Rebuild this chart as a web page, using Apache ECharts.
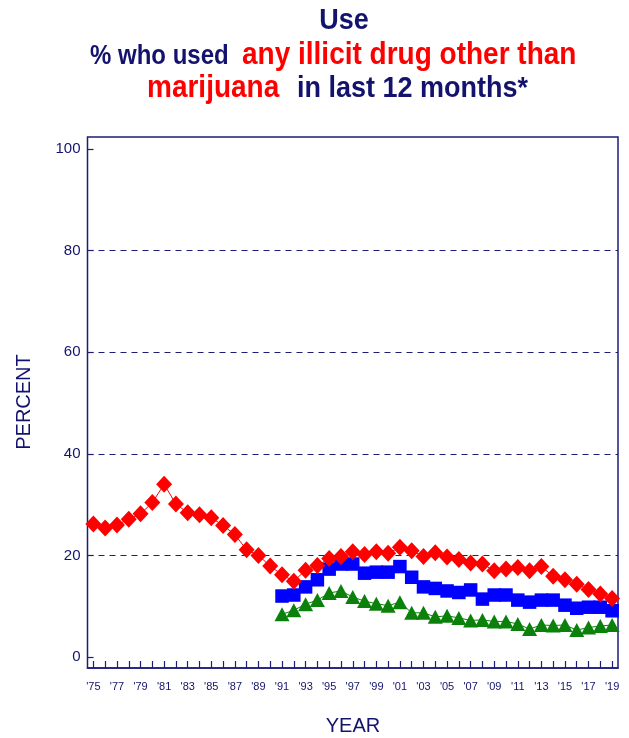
<!DOCTYPE html>
<html>
<head>
<meta charset="utf-8">
<script src="https://cdn.jsdelivr.net/npm/echarts@6/dist/echarts.min.js"></script>
<style>
html,body{margin:0;padding:0;background:#fff;}
#chart{width:629px;height:738px;}
</style>
</head>
<body>
<div id="chart"></div>
<script>
// ---- data ----
const years = ["'75","'76","'77","'78","'79","'80","'81","'82","'83","'84","'85","'86","'87","'88","'89","'90","'91","'92","'93","'94","'95","'96","'97","'98","'99","'00","'01","'02","'03","'04","'05","'06","'07","'08","'09","'10","'11","'12","'13","'14","'15","'16","'17","'18","'19"];
const grade12 = [26.2,25.4,26.0,27.1,28.2,30.4,34.0,30.1,28.4,28.0,27.4,25.9,24.1,21.1,20.0,17.9,16.2,14.9,17.1,18.0,19.4,19.8,20.7,20.2,20.7,20.4,21.6,20.9,19.8,20.5,19.7,19.2,18.5,18.3,17.0,17.3,17.6,17.0,17.8,15.9,15.2,14.3,13.3,12.4,11.5];
const grade10From1991 = [12.0,12.2,13.8,15.2,17.3,18.3,18.3,16.5,16.7,16.7,17.8,15.7,13.8,13.5,13.0,12.7,13.2,11.4,12.2,12.2,11.2,10.8,11.2,11.2,10.2,9.6,9.8,9.8,9.1];
const grade8From1991 = [8.4,9.2,10.4,11.2,12.6,13.0,11.8,11.0,10.5,10.1,10.8,8.7,8.7,7.9,8.1,7.7,7.2,7.3,7.0,7.0,6.5,5.5,6.3,6.2,6.3,5.3,5.8,6.1,6.3];
const yTicks = [0,20,40,60,80,100];

const startIdx = years.indexOf("'91");
const pad = arr => new Array(startIdx).fill(null).concat(arr);
const grade10 = pad(grade10From1991);
const grade8 = pad(grade8From1991);

const NAVY = '#13136e';
const AXIS = '#1d1d78';
const FONT = '"Liberation Sans", Arial, sans-serif';

function titleText(x, y, text, size, color, align) {
  return {type: 'text', x: x, y: y, scaleY: 1.12, originX: 0, originY: 0,
    style: {text: text, font: 'bold ' + size + 'px ' + FONT, fill: color, align: align, verticalAlign: 'middle'}};
}

const chart = echarts.init(document.getElementById('chart'), null, {renderer:'canvas'});
chart.setOption({
  animation: false,
  backgroundColor: '#ffffff',
  grid: [
    {left: 87.5, right: 11, top: 149, bottom: 81, containLabel: false},
    {left: 87.5, right: 11, top: 137, bottom: 70, containLabel: false,
     show: true, borderColor: AXIS, borderWidth: 1.5, backgroundColor: 'transparent'}
  ],
  xAxis: [
    {type: 'category', gridIndex: 0, data: years, boundaryGap: true, show: false},
    {type: 'category', gridIndex: 1, data: years, boundaryGap: true,
     axisLine: {show: true, lineStyle: {color: AXIS, width: 1.5}},
     axisTick: {show: true, inside: true, alignWithLabel: true, interval: 0, length: 7, lineStyle: {color: AXIS, width: 1.2}},
     axisLabel: {interval: 1, color: NAVY, fontSize: 11, fontFamily: FONT, margin: 13},
     splitLine: {show: false}}
  ],
  yAxis: [
    {type: 'value', gridIndex: 0, min: yTicks[0], max: yTicks[yTicks.length-1], interval: 20,
     axisLine: {show: false},
     axisTick: {show: true, inside: true, length: 6, lineStyle: {color: AXIS, width: 1.2}},
     axisLabel: {color: NAVY, fontSize: 15, fontFamily: FONT, margin: 7},
     splitLine: {show: true, showMinLine: false, showMaxLine: false,
       lineStyle: {color: AXIS, width: 1.2, type: [6, 5]}}},
    {type: 'value', gridIndex: 1, show: false, min: 0, max: 1}
  ],
  series: [
    {name: '8th', type: 'line', xAxisIndex: 0, yAxisIndex: 0, data: grade8,
     symbol: 'triangle', symbolSize: [15, 14], showAllSymbol: true, z: 2,
     itemStyle: {color: '#0b800b'}, lineStyle: {color: '#0b800b', width: 1}},
    {name: '10th', type: 'line', xAxisIndex: 0, yAxisIndex: 0, data: grade10,
     symbol: 'rect', symbolSize: 13.5, showAllSymbol: true, z: 3,
     itemStyle: {color: '#0000ff'}, lineStyle: {color: '#0000ff', width: 1}},
    {name: '12th', type: 'line', xAxisIndex: 0, yAxisIndex: 0, data: grade12,
     symbol: 'diamond', symbolSize: [16, 17], showAllSymbol: true, z: 4,
     itemStyle: {color: '#ff0000'}, lineStyle: {color: '#ff0000', width: 1}}
  ],
  graphic: [
    titleText(344, 21, 'Use', 27, NAVY, 'center'),
    titleText(90, 57, '% who used', 24, NAVY, 'left'),
    titleText(242, 55.5, 'any illicit drug other than', 28, '#ff0000', 'left'),
    titleText(147, 88.5, 'marijuana', 28, '#ff0000', 'left'),
    titleText(297, 88.5, 'in last 12 months*', 27, NAVY, 'left'),
    {type: 'text', x: 24, y: 402, rotation: Math.PI / 2, style: {text: 'PERCENT', font: '20px ' + FONT, fill: NAVY, align: 'center', verticalAlign: 'middle'}},
    {type: 'text', x: 353, y: 726, style: {text: 'YEAR', font: '20px ' + FONT, fill: NAVY, align: 'center', verticalAlign: 'middle'}}
  ]
});
</script>
</body>
</html>
